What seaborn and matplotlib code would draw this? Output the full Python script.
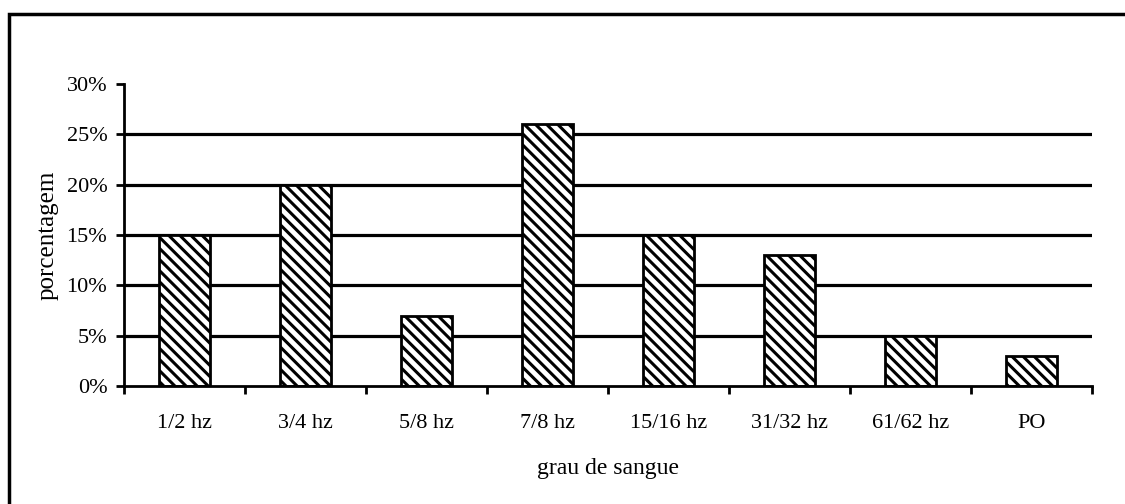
import matplotlib
matplotlib.use("Agg")
import matplotlib.pyplot as plt
import seaborn as sns
import pandas as pd
import numpy as np
from matplotlib.patches import Rectangle
from matplotlib.ticker import FixedLocator, PercentFormatter

categories = ["1/2 hz", "3/4 hz", "5/8 hz", "7/8 hz", "15/16 hz", "31/32 hz", "61/62 hz", "PO"]
values = [15, 20, 7, 26, 15, 13, 5, 3]
yticks = [0, 5, 10, 15, 20, 25, 30]

sns.set_theme(style="white")
plt.rcParams["font.family"] = ["Liberation Serif", "DejaVu Serif"]
plt.rcParams["hatch.linewidth"] = 2.2
plt.rcParams["hatch.color"] = "black"

df = pd.DataFrame({"grau": categories, "pct": values})

fig = plt.figure(figsize=(11.25, 5.04), dpi=100)
ax = fig.add_axes([124/1125, 1-386/504, (1092-124)/1125, (386-84)/504])

sns.barplot(data=df, x="grau", y="pct", ax=ax, color="white", edgecolor="black",
            linewidth=2, width=0.42, saturation=1)
for p in ax.patches:
    p.set_hatch("\\\\\\")
    p.set_facecolor("white")
    p.set_edgecolor("black")
    p.set_zorder(3)

ax.set_ylim(0, 30)
ax.set_xlim(-0.5, len(categories) - 0.5)
ax.set_yticks(yticks)
ax.yaxis.set_major_formatter(PercentFormatter(decimals=0))
for y in yticks[1:-1]:
    ax.axhline(y, color="black", lw=2.3, zorder=1)

ax.xaxis.set_minor_locator(FixedLocator(np.arange(-0.5, len(categories), 1.0)))
ax.tick_params(axis="x", which="major", length=0, pad=20, labelsize=16)
ax.tick_params(axis="x", which="minor", length=6, width=2, direction="out", color="black", bottom=True)
ax.tick_params(axis="y", which="major", length=6, width=2, direction="out", color="black", labelsize=16, pad=6, left=True)

for s in ["top", "right"]:
    ax.spines[s].set_visible(False)
for s in ["left", "bottom"]:
    ax.spines[s].set_color("black")
    ax.spines[s].set_linewidth(2)
    ax.spines[s].set_zorder(4)

ax.set_xlabel("grau de sangue", fontsize=17, labelpad=18, color="black")
ax.set_ylabel("porcentagem", fontsize=18, labelpad=6, color="black")
for lbl in ax.get_xticklabels() + ax.get_yticklabels():
    lbl.set_color("black")

fig.patches.append(Rectangle((9/1125, -0.1), 1.2, 1 - 14/504 + 0.1, transform=fig.transFigure,
                             fill=False, edgecolor="black", linewidth=2.5))

fig.savefig("out.png", dpi=100)
